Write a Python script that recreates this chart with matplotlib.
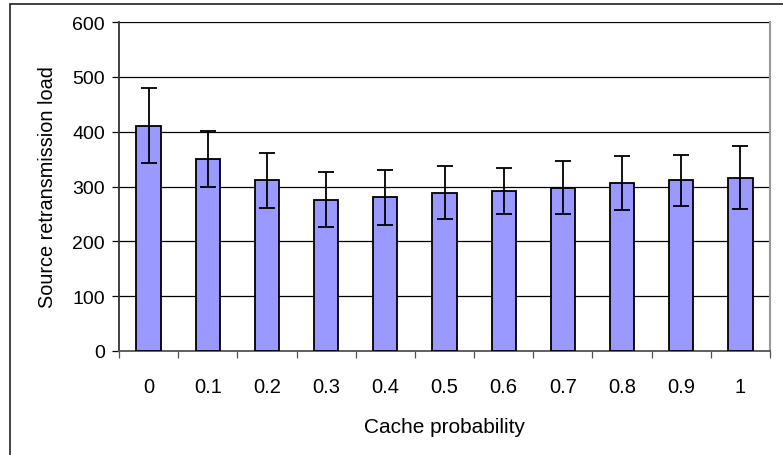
import numpy as np
import matplotlib.pyplot as plt
from matplotlib.patches import Rectangle

plt.rcParams['font.family'] = ['Liberation Sans', 'DejaVu Sans']

# data
cache_prob = ['0', '0.1', '0.2', '0.3', '0.4', '0.5', '0.6', '0.7', '0.8', '0.9', '1']
load = [411, 350, 311, 276, 280, 289, 292, 298, 306, 311, 316]
err = [68, 51, 50, 50, 50, 49, 42, 48, 49, 47, 57]

W, H = 783, 456
fig = plt.figure(figsize=(W / 100, H / 100), dpi=100)
# plot area: x 119..770, y 23..352 (pixels)
ax = fig.add_axes([119 / W, 1 - 352 / H, (770 - 119) / W, (352 - 23) / H])

# outer chart border
fig.patches.append(Rectangle((10 / W, -0.01), 1.0, 1 - 5 / H + 0.01, transform=fig.transFigure,
                             fill=False, edgecolor='#222222', linewidth=1.2))

x = np.arange(len(cache_prob))
ax.bar(x, load, width=0.41, color='#9999ff', edgecolor='black', linewidth=1.3, zorder=3)
ax.errorbar(x, load, yerr=err, fmt='none', ecolor='black', elinewidth=1.3,
            capsize=6, capthick=1.3, zorder=4)

ax.set_xlim(-0.5, len(cache_prob) - 0.5)
ax.set_ylim(0, 600)
ax.set_yticks(range(0, 601, 100))
ax.yaxis.grid(True, color='black', linewidth=0.9, zorder=0)
ax.set_axisbelow(True)

ax.set_xticks(x)
ax.set_xticklabels(cache_prob)
ax.tick_params(axis='x', length=0, pad=19, labelsize=14.5)
ax.set_xticks(np.arange(-0.5, len(cache_prob)), minor=True)
ax.tick_params(axis='x', which='minor', length=5, width=0.9, color='#555555', direction='out')
ax.tick_params(axis='y', length=5, width=0.9, labelsize=14, pad=5)

ax.spines['top'].set_visible(False)
ax.spines['right'].set_color('#999999')
ax.spines['right'].set_linewidth(1.5)
ax.spines['bottom'].set_color('#555555')
ax.spines['bottom'].set_linewidth(1.3)
ax.spines['left'].set_color('#333333')
ax.spines['left'].set_linewidth(1.3)

ax.set_xlabel('Cache probability', fontsize=15, labelpad=15)
ax.set_ylabel('Source retransmission load', fontsize=14.3, labelpad=11)

fig.savefig('out.png', dpi=100)
